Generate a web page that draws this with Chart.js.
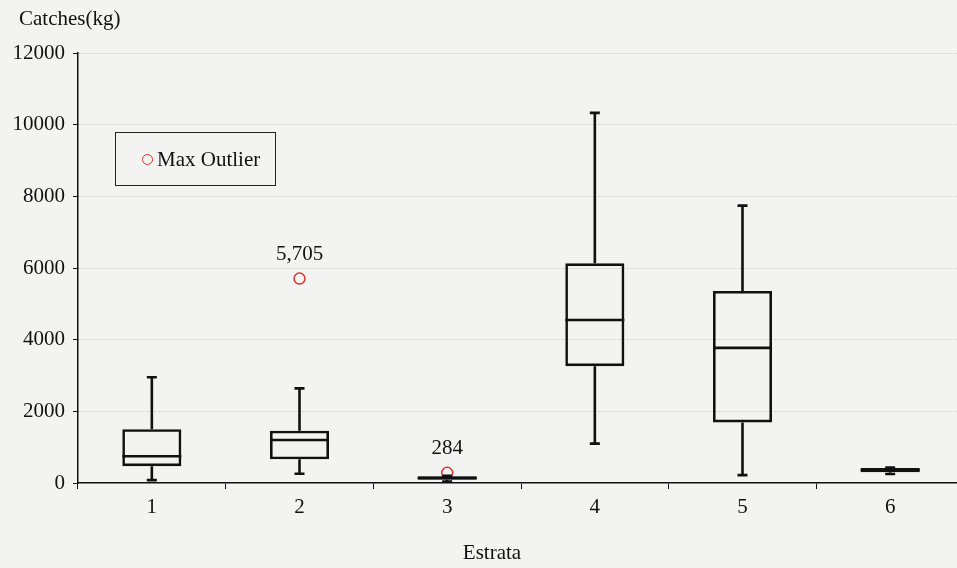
<!DOCTYPE html>
<html>
<head>
<meta charset="utf-8">
<script src="https://cdn.jsdelivr.net/npm/chart.js@4/dist/chart.umd.min.js"></script>
<style>
    html, body { margin: 0; background: #f3f3f2; overflow: hidden; }
    #wrap { position: relative; width: 964px; height: 568px; }
    #legendBox {
        position: absolute; left: 115px; top: 132px; width: 161px; height: 54px;
        border: 1.5px solid #222; font: 21px "Liberation Serif", serif; color: #111;
        display: flex; align-items: center; box-sizing: border-box;
    }
    #legendBox .dot {
        width: 9px; height: 9px; border: 1.5px solid #e0322c; border-radius: 50%;
        margin: 0 4px 0 26px;
    }
</style>
</head>
<body>
<div id="wrap">
    <canvas id="chart" width="964" height="568"></canvas>
    <div id="legendBox"><span class="dot"></span><span>Max Outlier</span></div>
</div>
<script>
const strata = ["1", "2", "3", "4", "5", "6"];
const minVals = [80, 260, 40, 1100, 220, 250];
const q1Vals = [470, 660, 90, 3260, 1690, 300];
const medianVals = [745, 1200, 140, 4550, 3770, 360];
const q3Vals = [1500, 1460, 185, 6130, 5360, 420];
const maxVals = [2950, 2640, 200, 10330, 7740, 430];
const maxOutliers = [null, 5705, 284, null, null, null];
const yTicks = [0, 2000, 4000, 6000, 8000, 10000, 12000];

const serif = "'Liberation Serif', 'Times New Roman', serif";
const ink = "#111";

// whiskers, medians and outlier labels, placed with the chart's scales
const whiskerPlugin = {
    id: "whiskers",
    afterDatasetsDraw(chart) {
        const ctx = chart.ctx;
        const x = chart.scales.x;
        const y = chart.scales.y;
        const half = chart.getDatasetMeta(0).data[0].width / 2;
        ctx.save();
        ctx.strokeStyle = ink;
        ctx.lineWidth = 2.6;
        strata.forEach((s, i) => {
            const px = x.getPixelForValue(i);
            const pairs = [[q3Vals[i], maxVals[i]], [q1Vals[i], minVals[i]]];
            pairs.forEach(([from, to]) => {
                ctx.beginPath();
                ctx.moveTo(px, y.getPixelForValue(from));
                ctx.lineTo(px, y.getPixelForValue(to));
                ctx.moveTo(px - 5, y.getPixelForValue(to));
                ctx.lineTo(px + 5, y.getPixelForValue(to));
                ctx.stroke();
            });
            ctx.beginPath();
            ctx.moveTo(px - half, y.getPixelForValue(medianVals[i]));
            ctx.lineTo(px + half, y.getPixelForValue(medianVals[i]));
            ctx.stroke();
        });
        ctx.fillStyle = ink;
        ctx.font = "21px " + serif;
        ctx.textAlign = "center";
        ctx.textBaseline = "middle";
        maxOutliers.forEach((v, i) => {
            if (v === null) return;
            ctx.fillText(v.toLocaleString("en-US"), x.getPixelForValue(i), y.getPixelForValue(v) - 24);
        });
        // axis titles
        ctx.fillText("Estrata", 492, 553);
        ctx.textAlign = "left";
        ctx.fillText("Catches(kg)", 19, 19);
        ctx.restore();
    }
};

const hasOutlier = (c) => maxOutliers[c.dataIndex] !== null;

new Chart(document.getElementById("chart").getContext("2d"), {
    type: "bar",
    data: {
        labels: strata,
        datasets: [
            {
                label: "box",
                data: strata.map((s, i) => [q1Vals[i], q3Vals[i]]),
                backgroundColor: "rgba(0,0,0,0)",
                borderColor: ink,
                borderWidth: 2.6,
                borderSkipped: false,
                barPercentage: 0.4,
                categoryPercentage: 1,
            },
            {
                type: "line",
                label: "Max Outlier",
                data: maxOutliers,
                showLine: false,
                borderWidth: 0,
                pointRadius: (c) => hasOutlier(c) ? 5.5 : 0,
                pointBorderWidth: (c) => hasOutlier(c) ? 1.5 : 0,
                pointBorderColor: "#e0322c",
                pointBackgroundColor: "rgba(0,0,0,0)",
                order: -1,
            },
        ],
    },
    options: {
        responsive: false,
        animation: false,
        layout: { padding: { top: 53, right: 0, left: 0, bottom: 0 } },
        plugins: { legend: { display: false }, tooltip: { enabled: false } },
        scales: {
            x: {
                afterFit: (scale) => { scale.height = 85; },
                grid: { drawOnChartArea: false, tickLength: 6, color: ink, offset: true },
                border: { color: ink, width: 1.5 },
                ticks: { color: ink, font: { family: serif, size: 21 }, padding: 6 },
            },
            y: {
                min: 0,
                max: 12000,
                afterFit: (scale) => { scale.width = 78; },
                afterBuildTicks: (scale) => { scale.ticks = yTicks.map(v => ({ value: v })); },
                grid: {
                    color: (c) => c.tick && c.tick.value === 0 ? "rgba(0,0,0,0)" : "#cdcdcd",
                    tickColor: ink,
                    tickLength: 5,
                },
                border: { color: ink, width: 1.5, dash: [2, 2] },
                ticks: { color: ink, font: { family: serif, size: 21 }, padding: 8, callback: (v) => String(v) },
            },
        },
    },
    plugins: [whiskerPlugin],
});
</script>
</body>
</html>
